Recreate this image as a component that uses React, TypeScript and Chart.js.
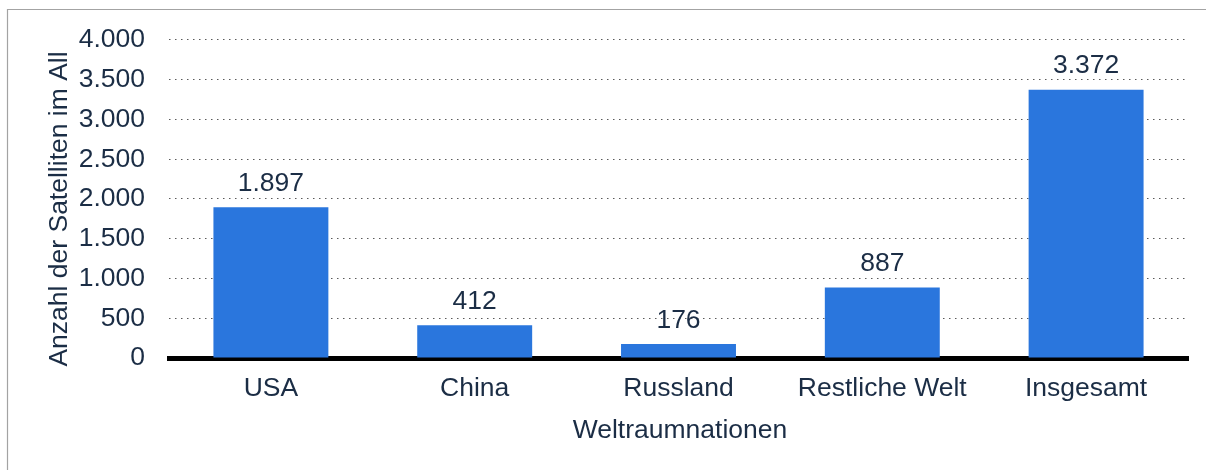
import React, { useEffect, useRef } from "react";
import { Chart, registerables } from "chart.js";

Chart.register(...registerables);

const categories = ["USA", "China", "Russland", "Restliche Welt", "Insgesamt"];
const satellites = [1897, 412, 176, 887, 3372];
const yMin = 0;
const yMax = 4000;
const yStep = 500;
const yAxisTitle = "Anzahl der Satelliten im All";
const xAxisTitle = "Weltraumnationen";

const FONT = "'Liberation Sans', Arial, sans-serif";
const FONT_SIZE = 26.5;
const TEXT = "#1b2d45";
const BAR = "#2a76dd";

function fmt(v: number): string {
  return String(Math.round(v)).replace(/\B(?=(\d{3})+(?!\d))/g, ".");
}

const decorPlugin = {
  id: "decor",
  beforeDraw(chart: any) {
    const ctx = chart.ctx;
    ctx.save();
    ctx.strokeStyle = "#a3a3a3";
    ctx.lineWidth = 1.2;
    ctx.beginPath();
    ctx.moveTo(7.5, 470);
    ctx.lineTo(7.5, 9.5);
    ctx.lineTo(1206, 9.5);
    ctx.stroke();
    ctx.restore();
  },
  afterDraw(chart: any) {
    const ctx = chart.ctx;
    ctx.save();
    ctx.fillStyle = TEXT;
    ctx.font = `${FONT_SIZE}px ${FONT}`;
    // data labels
    const meta = chart.getDatasetMeta(0);
    ctx.textAlign = "center";
    ctx.textBaseline = "alphabetic";
    meta.data.forEach((el: any, i: number) => {
      const v = chart.data.datasets[0].data[i] as number;
      ctx.fillText(fmt(v), el.x, el.y - 16.5);
    });
    // x title
    const ca = chart.chartArea;
    ctx.fillText(xAxisTitle, (ca.left + ca.right) / 2 + 1.5, 438);
    // y title
    ctx.translate(66.5, 209);
    ctx.rotate(-Math.PI / 2);
    ctx.fillText(yAxisTitle, 0, 0);
    ctx.restore();
  },
};

export default function App() {
  const ref = useRef<HTMLCanvasElement | null>(null);

  useEffect(() => {
    if (!ref.current) return;
    const chart = new Chart(ref.current, {
      type: "bar",
      data: {
        labels: categories,
        datasets: [
          {
            data: satellites,
            backgroundColor: BAR,
            borderWidth: 0,
            barPercentage: 0.564,
            categoryPercentage: 1,
          },
        ],
      },
      options: {
        responsive: false,
        animation: false,
        layout: { padding: { left: 0, top: 38, right: 18, bottom: 0 } },
        plugins: {
          legend: { display: false },
          tooltip: { enabled: false },
        },
        scales: {
          x: {
            z: 1,
            offset: true,
            grid: {
              display: true,
              color: "rgba(0,0,0,0)",
              drawOnChartArea: false,
              drawTicks: false,
            },
            border: { display: true, color: "#000000", width: 5 },
            ticks: {
              color: TEXT,
              font: { family: FONT, size: FONT_SIZE },
              padding: 15,
              maxRotation: 0,
              autoSkip: false,
            },
            afterFit: (s: any) => {
              s.height = 112;
            },
          },
          y: {
            min: yMin,
            max: yMax,
            grid: {
              color: "#5a5a5a",
              lineWidth: 1,
              drawTicks: false,
            },
            border: { display: false, dash: [1.5, 4.5] },
            ticks: {
              stepSize: yStep,
              color: TEXT,
              font: { family: FONT, size: FONT_SIZE },
              padding: 24,
              callback: (v: any) => fmt(Number(v)),
            },
            afterFit: (s: any) => {
              s.width = 169;
            },
          },
        },
      },
      plugins: [decorPlugin],
    });
    return () => chart.destroy();
  }, []);

  return (
    <div style={{ position: "absolute", left: 0, top: 0, width: 1206, height: 470, background: "#fff" }}>
      <canvas ref={ref} width={1206} height={470} style={{ display: "block" }} />
    </div>
  );
}
